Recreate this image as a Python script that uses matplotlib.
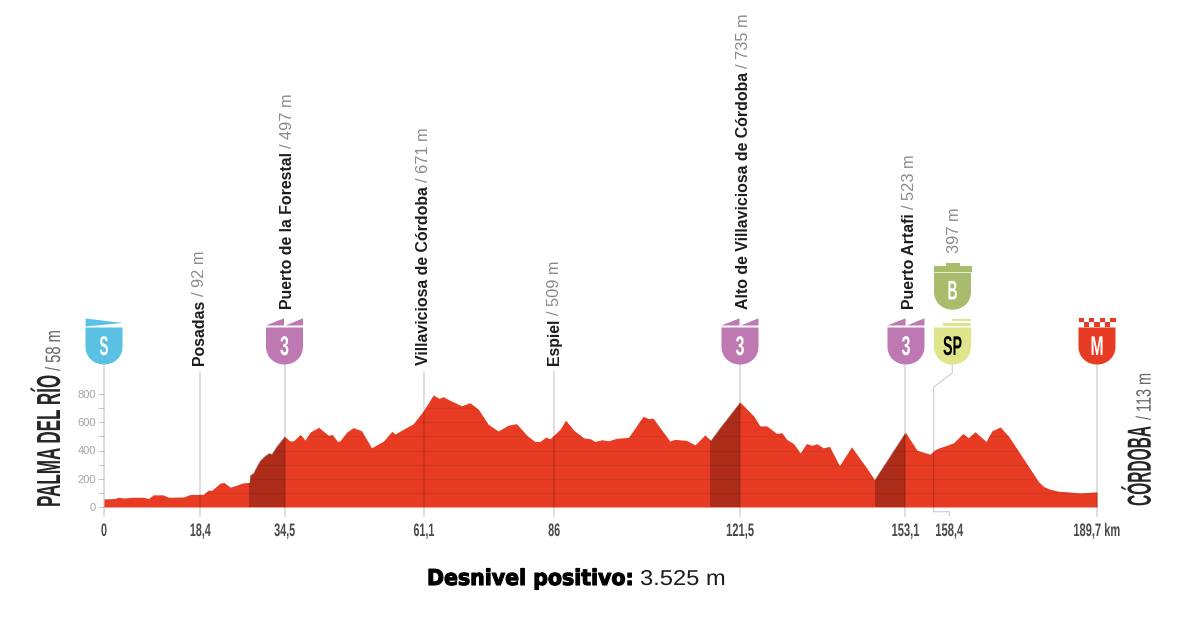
import matplotlib
matplotlib.use("Agg")
import matplotlib.pyplot as plt
from matplotlib.patches import PathPatch, Polygon, Rectangle
from matplotlib.path import Path
from matplotlib.patheffects import AbstractPathEffect
from matplotlib.transforms import Affine2D, blended_transform_factory

W, H = 1178, 630
KM_MAX = 189.7
RED = "#E73C23"
PURPLE = "#BE78B2"
NARROW = ["Liberation Sans Narrow", "Liberation Sans"]

# profile
km = [0, 2.1, 2.7, 3.7, 5.6, 7.5, 8.5, 9.4, 11.3, 12.3, 15.2, 16.4, 19, 19.9, 20.6,
      22.2, 22.9, 24.1, 25.4, 26.6, 27.8, 27.9, 28.5, 29.8, 30.8, 31.6, 32, 33, 34.5,
      35.5, 36.2, 37.5, 38.4, 39.4, 41, 42.9, 43.6, 44.6, 45.1, 45.7, 46.4, 47.6, 49.2,
      51.1, 53.4, 55, 55.6, 56.6, 59.1, 61, 62.9, 64, 64.8, 66.1, 68.3, 69.9,
      71.5, 73.4, 75.3, 77.2, 78.8, 80.8, 82.3, 83.3, 84.4, 85.2, 87.1, 88.2, 89.7, 91.6,
      92.9, 93.8, 95.1, 96.4, 97.9, 100.2, 103, 104, 104.9, 106.2, 108.1, 109.1, 111.3,
      112.9, 114.8, 115.9, 117.7, 121.5, 122.8, 124.1, 125.3, 126.6, 128.5, 129.5, 130.4,
      131.7, 133, 134.2, 135.2, 136.2, 137.4, 138.6, 140.5, 142.8, 145.7, 147.2, 153.1,
      155.3, 157.8, 158.8, 159.7, 161, 162.3, 164.1, 165.1, 166.4, 168.5, 169.6, 171.2,
      172.8, 178.5, 179.5, 180.7, 182.3, 186.5, 189.7]
elev = [57, 60, 69, 64, 69, 69, 60, 86, 86, 69, 71, 88, 90, 119, 119,
        169, 174, 140, 155, 171, 174, 224, 240, 329, 364, 383, 374, 431, 500,
        467, 469, 514, 474, 531, 564, 507, 514, 464, 469, 498, 531, 562, 540,
        419, 467, 536, 517, 538, 590, 681, 793, 769, 781, 755, 717, 738,
        693, 586, 538, 579, 590, 507, 464, 464, 495, 483, 550, 614, 545, 490,
        483, 464, 476, 469, 486, 493, 643, 626, 629, 562, 467, 479, 471,
        440, 510, 471, 562, 743, 693, 645, 574, 574, 521, 526, 479,
        450, 383, 450, 436, 448, 419, 429, 293, 426, 276, 193, 529,
        402, 374, 407, 421, 436, 455, 521, 490, 533, 464, 538, 567,
        502, 181, 145, 126, 112, 100, 107]

climbs = [(27.7, 34.5), (115.8, 121.5), (147.2, 153.1)]
ytick_values = list(range(0, 900, 100))
ytick_labels = ["0", "", "200", "", "400", "", "600", "", "800"]

tick_km = [0, 18.4, 34.5, 61.1, 86, 121.5, 153.1, 158.4, 189.7]
tick_text = ["0", "18,4", "34,5", "61,1", "86", "121,5", "153,1", "158,4", "189,7 km"]
tick_widths = [6, 21, 21, 21, 12, 28, 28, 28, 47]

places = ["Posadas", "Puerto de la Forestal", "Villaviciosa de Córdoba", "Espiel",
          "Alto de Villaviciosa de Córdoba", "Puerto Artafi"]
heights = ["92 m", "497 m", "671 m", "509 m", "735 m", "523 m"]
place_x = [204.3, 291.7, 428, 559, 747.5, 913.5]
place_base = [365, 309, 365, 365, 309, 309]


class Stretch(AbstractPathEffect):
    """Stretch a text about its anchor, there is no condensed face installed."""

    def __init__(self, sx, sy, px, py, stroke=0):
        super().__init__()
        self.sx, self.sy, self.px, self.py = sx, sy, px, py
        self.stroke = stroke

    def draw_path(self, renderer, gc, tpath, affine, rgbFace=None):
        t = Affine2D().translate(-self.px, -self.py).scale(self.sx, self.sy).translate(self.px, self.py)
        gc0 = renderer.new_gc()
        gc0.copy_properties(gc)
        if self.stroke:
            # no black face installed, thicken the bold one
            gc0.set_linewidth(self.stroke)
            gc0.set_foreground(rgbFace)
        renderer.draw_path(gc0, tpath, affine + t, rgbFace)
        gc0.restore()


fig = plt.figure(figsize=(W / 100, H / 100), dpi=100)
ax = fig.add_axes([104 / W, (H - 507) / H, (1097 - 104) / W, 113 / H])
over = fig.add_axes([0, 0, 1, 1], zorder=5)
over.set_xlim(0, W)
over.set_ylim(H, 0)
over.axis("off")
over.patch.set_alpha(0)
renderer = fig.canvas.get_renderer()


def fitted(x, y, s, length, cap, vertical=False, ha="left", stroke=0, **kw):
    # font size set by the run length, then glyphs stretched up to the cap height
    txt = over.text(x, y, s, fontsize=10, rotation=90 if vertical else 0,
                    rotation_mode="anchor", ha=ha, va="baseline", **kw)
    box = txt.get_window_extent(renderer)
    natural = box.height if vertical else box.width
    size = 10 * length / natural
    txt.set_fontsize(size)
    f = cap / (0.72 * size * 100 / 72)
    px, py = over.transData.transform((x, y))
    if vertical:
        txt.set_path_effects([Stretch(f, 1, px, py, stroke)])
    else:
        txt.set_path_effects([Stretch(1, f, px, py, stroke)])
    return txt


def shield(cx, top, color, h=37):
    w = 18.5
    verts = [(cx - w, top), (cx + w, top), (cx + w, top + h - 18),
             (cx + w, top + h - 7), (cx + 10, top + h), (cx, top + h),
             (cx - 10, top + h), (cx - w, top + h - 7), (cx - w, top + h - 18),
             (cx - w, top)]
    codes = [Path.MOVETO, Path.LINETO, Path.LINETO] + [Path.CURVE4] * 6 + [Path.CLOSEPOLY]
    over.add_patch(PathPatch(Path(verts, codes), fc=color, ec="none"))


def rect(x0, y0, x1, y1, color):
    over.add_patch(Rectangle((x0, y0), x1 - x0, y1 - y0, fc=color, ec="none"))


def shield_letter(cx, base, s, color="white", length=9):
    fitted(cx, base, s, length, 19.5, ha="center", family=NARROW, weight="bold", color=color)


# profile
poly = ax.fill_between(km, elev, 0, color=RED, lw=0, zorder=2)
clip = poly.get_paths()[0]
for start, end in climbs:
    span = ax.axvspan(start, end, color="black", alpha=0.25, lw=0, zorder=3)
    span.set_clip_path(clip, ax.transData)
grid = ax.hlines(ytick_values[1:], 0, KM_MAX, color="black", alpha=0.07, lw=1, zorder=3)
grid.set_clip_path(clip, ax.transData)

ax.set_xlim(0, KM_MAX)
ax.set_ylim(0, 800)
ax.set_xticks([])
ax.set_yticks(ytick_values, ytick_labels)
ax.tick_params(axis="y", length=4.5, width=0.8, color="#cccccc", labelcolor="#a3a3a3",
               labelsize=8, pad=1.5)
for lab in ax.get_yticklabels():
    lab.set_family("Liberation Sans")
for sp in ax.spines.values():
    sp.set_visible(False)
ax.patch.set_alpha(0)

# vertical guides, x from km and y from the pixel overlay
trans = blended_transform_factory(ax.transData, over.transData)
guide_tops = [365, 372, 365, 372, 372, 365, 365, 365]
guide_km = [0, 18.4, 34.5, 61.1, 86, 121.5, 153.1, KM_MAX]
for k, top in zip(guide_km, guide_tops):
    ax.plot([k, k], [top, 516], transform=trans, color="black", alpha=0.15, lw=1.2,
            clip_on=False, zorder=4)
over.plot([952.3, 952.3, 933.7, 933.7, 949.3, 949.3], [365, 373, 387, 511.7, 511.7, 516],
          color="black", alpha=0.2, lw=0.8)

# distance labels, 158,4 sits off its guide in the original
for k, s, wid in zip(tick_km, tick_text, tick_widths):
    x = 949.3 if s == "158,4" else ax.transData.transform((k, 0))[0]
    fitted(x, 536, s, wid, 13, ha="center", family=NARROW, weight="bold", color="#4a4a4a")

# place names with altitude behind them
for x, name, alt, base in zip(place_x, places, heights, place_base):
    t = over.text(x, base, name, fontsize=11.4, rotation=90, rotation_mode="anchor",
                  ha="left", va="baseline", family="Liberation Sans", weight="bold", color="#1c1c1c")
    top = t.get_window_extent(renderer).height
    over.text(x, base - top - 4, "/ " + alt, fontsize=11.8, rotation=90, rotation_mode="anchor",
              ha="left", va="baseline", family="Liberation Sans", color="#8a8a8a")
over.text(959, 253, "397 m", fontsize=11.8, rotation=90, rotation_mode="anchor",
          ha="left", va="baseline", family="Liberation Sans", color="#8a8a8a")

# start and finish towns
fitted(60, 507, "PALMA DEL RÍO", 132, 24, vertical=True, family=NARROW, weight="bold", color="#262626")
fitted(60, 371, "/ 58 m", 41, 15, vertical=True, family=NARROW, color="#666666")
fitted(1150.7, 506, "CÓRDOBA", 80, 24, vertical=True, family=NARROW, weight="bold", color="#262626")
fitted(1150.7, 420, "/ 113 m", 47, 15, vertical=True, family=NARROW, color="#666666")

# S
shield(104, 327.5, "#5AC1E4")
over.add_patch(Polygon([(85.6, 318.5), (122.6, 323), (85.6, 326.5)], fc="#5AC1E4", ec="none"))
shield_letter(104, 355, "S", length=9)

# cat. 3 climbs
for cx in (284.5, 740, 906):
    shield(cx, 327.5, PURPLE)
    over.add_patch(Polygon([(cx - 18.5, 325.5), (cx - 0.5, 318.3), (cx - 0.5, 325.5)], fc=PURPLE, ec="none"))
    over.add_patch(Polygon([(cx + 1, 325.5), (cx + 18.5, 318.3), (cx + 18.5, 325.5)], fc=PURPLE, ec="none"))
    shield_letter(cx, 355, "3", length=9)

# SP and bonus
shield(952.5, 327.5, "#E0E58C")
rect(951.5, 319, 971, 321, "#E0E58C")
rect(942.5, 323, 971, 325.5, "#E0E58C")
shield_letter(952.5, 355, "SP", color="black", length=19)

shield(952.5, 272.7, "#A9BC6B")
rect(933.5, 266, 971.5, 271.5, "#A9BC6B")
rect(945.7, 263.3, 960, 266.2, "#A9BC6B")
shield_letter(952.5, 299.5, "B", length=10)

# finish
shield(1097, 327.5, RED)
for i in range(7):
    rect(1078.5 + i * 5.3, 318.2, 1083.8 + i * 5.3, 322.3, "white" if i % 2 else RED)
    rect(1078.5 + i * 5.3, 322.3, 1083.8 + i * 5.3, 326.6, RED if i % 2 else "white")
shield_letter(1097, 355, "M", length=13)

# footer
fitted(427, 585, "Desnivel positivo:", 206, 15.7, stroke=0.8, family="DejaVu Sans", weight="bold", color="black")
fitted(640, 585, "3.525 m", 86, 15.5, family="Liberation Sans", color="#1c1c1c")

fig.savefig("out.png", dpi=100)
